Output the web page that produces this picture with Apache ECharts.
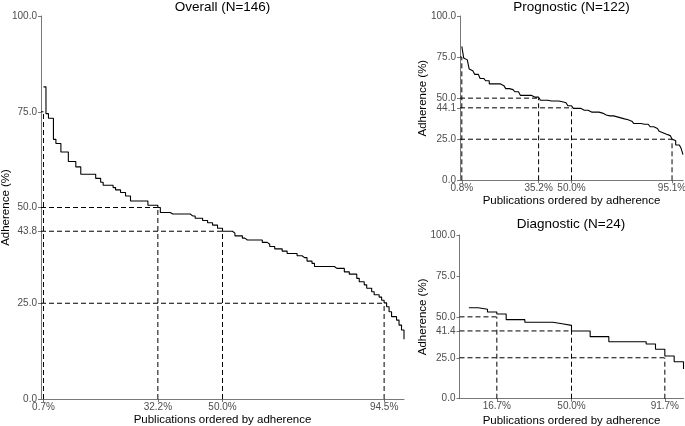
<!DOCTYPE html>
<html><head><meta charset="utf-8">
<script src="https://cdn.jsdelivr.net/npm/echarts@6/dist/echarts.min.js"></script>
<style>html,body{margin:0;padding:0;background:#fff}#c{width:685px;height:426px}</style>
</head><body><div id="c"></div>
<script>
// ---- data ----
const overallValues = [
 81.5, 74.5, 73.3, 73.3, 67.8, 66.7, 66.7, 64.5, 64.5, 64.5,
 62.0, 62.0, 62.0, 60.6, 60.6, 58.7, 58.7, 58.7, 58.7, 58.7,
 58.7, 57.6, 57.6, 56.6, 55.8, 55.8, 55.8, 55.8, 55.2, 54.6,
 54.6, 53.9, 53.9, 53.0, 53.0, 51.7, 51.7, 51.7, 51.7, 51.7,
 51.7, 51.7, 50.6, 50.6, 50.6, 50.6, 50.0, 48.7, 48.7, 48.7,
 48.7, 48.3, 48.3, 48.3, 48.3, 48.3, 48.3, 48.3, 48.3, 47.8,
 47.8, 47.2, 47.2, 47.2, 46.6, 46.6, 46.0, 46.0, 45.4, 45.4,
 44.6, 44.6, 43.8, 43.8, 43.8, 43.8, 43.3, 42.6, 42.6, 42.6,
 42.0, 41.5, 41.5, 41.5, 41.5, 41.5, 41.5, 41.5, 40.9, 40.9,
 40.4, 39.8, 39.8, 39.2, 39.2, 39.2, 38.6, 38.6, 38.0, 38.0,
 38.0, 38.0, 37.4, 37.4, 36.9, 36.9, 36.0, 36.0, 35.4, 34.6,
 34.6, 34.6, 34.6, 34.6, 34.6, 34.6, 34.6, 34.1, 34.1, 34.1,
 34.1, 33.2, 33.2, 32.6, 32.6, 32.6, 31.5, 30.6, 30.6, 29.8,
 28.9, 28.9, 28.0, 27.2, 27.2, 26.6, 25.8, 25.1, 24.1, 22.8,
 21.5, 21.5, 20.6, 19.3, 18.0, 15.6
];
const prognosticValues = [
 81.5, 74.5, 73.3, 73.3, 67.8, 66.7, 66.7, 64.5, 64.5, 64.5,
 62.0, 62.0, 62.0, 60.6, 60.6, 58.7, 58.7, 58.7, 58.7, 58.7,
 58.7, 57.6, 57.6, 56.6, 55.8, 55.8, 55.8, 55.2, 54.6, 53.9,
 53.9, 53.0, 51.7, 51.7, 51.7, 51.7, 51.7, 51.7, 50.6, 50.6,
 50.6, 50.6, 50.0, 48.7, 48.7, 48.7, 48.7, 48.3, 48.3, 48.3,
 48.3, 48.3, 48.3, 47.8, 47.8, 47.2, 47.2, 46.0, 45.4, 45.4,
 44.4, 43.8, 43.8, 43.8, 43.8, 43.3, 42.6, 42.6, 42.6, 42.0,
 41.5, 41.5, 41.5, 41.5, 41.5, 40.9, 40.9, 40.4, 39.8, 39.8,
 39.2, 39.2, 39.2, 38.6, 38.6, 38.0, 38.0, 37.4, 37.4, 36.9,
 36.9, 36.0, 36.0, 35.4, 34.6, 34.6, 34.6, 34.6, 34.1, 34.1,
 34.1, 34.1, 33.2, 32.6, 32.6, 32.6, 31.5, 30.6, 29.8, 28.9,
 28.9, 28.0, 27.2, 27.2, 26.6, 25.1, 24.1, 21.5, 21.5, 20.6,
 19.3, 15.6
];
const diagnosticValues = [
 55.6, 54.6, 53.0, 51.7, 48.3, 48.3, 46.7, 46.7, 46.7, 45.8,
 44.8, 41.4, 41.4, 37.9, 37.9, 34.8, 34.8, 34.8, 34.8, 33.4,
 30.2, 26.1, 22.6, 18.1
];

const overallTitle = 'Overall (N=146)';
const prognosticTitle = 'Prognostic (N=122)';
const diagnosticTitle = 'Diagnostic (N=24)';

// x ticks: rank position and label (percent of publications)
const overallXTicks = [1, 47, 73, 138];
const overallXLabels = ['0.7%', '32.2%', '50.0%', '94.5%'];
const prognosticXTicks = [1, 43, 61, 116];
const prognosticXLabels = ['0.8%', '35.2%', '50.0%', '95.1%'];
const diagnosticXTicks = [4, 12, 22];
const diagnosticXLabels = ['16.7%', '50.0%', '91.7%'];

// reference adherence levels matched to x ticks
const overallRefY = [75, 50, 43.8, 25];
const prognosticRefY = [75, 50, 44.1, 25];
const diagnosticRefY = [50, 41.4, 25];

const overallYTicks = [0, 25, 43.8, 50, 75, 100];
const prognosticYTicks = [0, 25, 44.1, 50, 75, 100];
const diagnosticYTicks = [0, 25, 41.4, 50, 75, 100];

const xAxisName = 'Publications ordered by adherence';
const yAxisName = 'Adherence (%)';

// ---- chart ----
const FONT = "'Liberation Sans', Arial, Helvetica, sans-serif";
const panels = [
  {title: overallTitle, values: overallValues, xTicks: overallXTicks, xLabels: overallXLabels,
   refY: overallRefY, yTicks: overallYTicks,
   grid: {left: 41, top: 16, width: 363, height: 383}, titleX: 222.5, titleTop: 0, yGap: 29.5, xGap: 15},
  {title: prognosticTitle, values: prognosticValues, xTicks: prognosticXTicks, xLabels: prognosticXLabels,
   refY: prognosticRefY, yTicks: prognosticYTicks,
   grid: {left: 460, top: 16, width: 223, height: 164.3}, titleX: 571.5, titleTop: 0, yGap: 31, xGap: 15},
  {title: diagnosticTitle, values: diagnosticValues, xTicks: diagnosticXTicks, xLabels: diagnosticXLabels,
   refY: diagnosticRefY, yTicks: diagnosticYTicks,
   grid: {left: 459.5, top: 235, width: 224, height: 163.7}, titleX: 571, titleTop: 217, yGap: 31, xGap: 16}
];

const AXIS_COLOR = '#555';
const LABEL_COLOR = '#4d4d4d';
const option = {animation: false, backgroundColor: '#fff', title: [], grid: [], xAxis: [], yAxis: [], series: []};

panels.forEach((p, i) => {
  const n = p.values.length;
  option.title.push({text: p.title, left: p.titleX, top: p.titleTop, textAlign: 'center', padding: 0,
    textStyle: {fontFamily: FONT, fontSize: 13.5, fontWeight: 'normal', color: '#000'}});
  option.grid.push(Object.assign({containLabel: false, outerBoundsMode: 'none'}, p.grid));
  option.xAxis.push({
    type: 'value', gridIndex: i, min: 0, max: n,
    name: xAxisName, nameLocation: 'middle', nameGap: p.xGap, nameMoveOverlap: false,
    nameTextStyle: {fontFamily: FONT, fontSize: 11.5, color: '#000'},
    axisLine: {show: true, onZero: false, lineStyle: {color: AXIS_COLOR, width: 0.8}},
    axisTick: {show: true, length: 3, customValues: p.xTicks, lineStyle: {color: AXIS_COLOR, width: 0.8}},
    axisLabel: {show: true, customValues: p.xTicks, margin: 3, fontFamily: FONT, fontSize: 10, color: LABEL_COLOR,
      formatter: v => { const k = p.xTicks.indexOf(v); return k >= 0 ? p.xLabels[k] : ''; }},
    splitLine: {show: false}
  });
  option.yAxis.push({
    type: 'value', gridIndex: i, min: 0, max: 100,
    name: yAxisName, nameLocation: 'middle', nameGap: p.yGap, nameRotate: 90, nameMoveOverlap: false,
    nameTextStyle: {fontFamily: FONT, fontSize: 11.5, color: '#000'},
    axisLine: {show: true, onZero: false, lineStyle: {color: AXIS_COLOR, width: 0.8}},
    axisTick: {show: true, length: 3, customValues: p.yTicks, lineStyle: {color: AXIS_COLOR, width: 0.8}},
    axisLabel: {show: true, customValues: p.yTicks, margin: 4, fontFamily: FONT, fontSize: 10, color: LABEL_COLOR,
      formatter: v => Number(v).toFixed(1)},
    splitLine: {show: false}
  });
  // reference dashed lines
  p.refY.forEach((ry, k) => {
    const xr = p.xTicks[k];
    const base = {type: 'line', xAxisIndex: i, yAxisIndex: i, symbol: 'none', silent: true, z: 1,
      lineStyle: {color: '#000', width: 1, type: [5, 3]}};
    option.series.push(Object.assign({}, base, {data: [[0, ry], [xr, ry]]}));
    option.series.push(Object.assign({}, base, {data: [[xr, 0], [xr, ry]]}));
  });
  // step curve
  option.series.push({
    type: 'line', xAxisIndex: i, yAxisIndex: i, step: 'end', symbol: 'none', z: 3,
    lineStyle: {color: '#000', width: 1.1},
    data: p.values.map((v, r) => [r + 1, v])
  });
});

const chart = echarts.init(document.getElementById('c'), null, {renderer: 'canvas'});
chart.setOption(option);
</script>
</body></html>
